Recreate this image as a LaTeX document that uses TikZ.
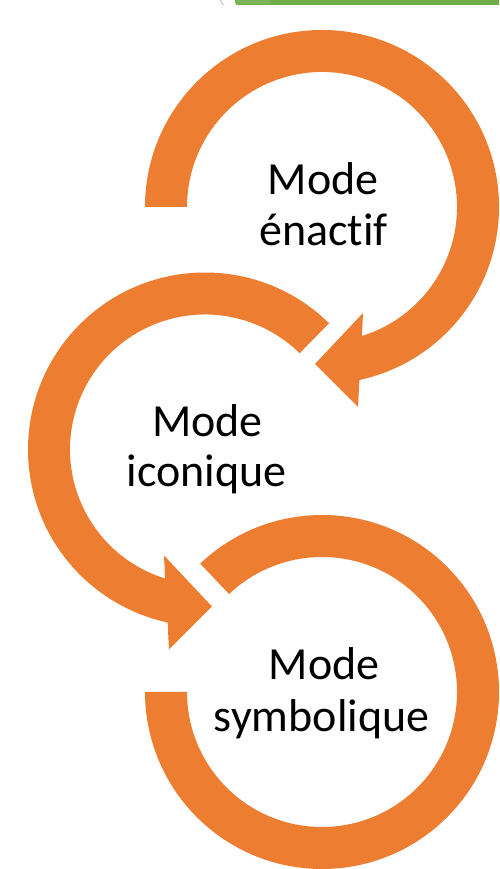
\documentclass[tikz,border=0pt]{standalone}
\usepackage{fontspec}
\setmainfont{Carlito}[Ligatures={NoCommon,NoContextual}]
\definecolor{arrowOrange}{HTML}{ED7D31}
\definecolor{barGreen}{HTML}{70AD47}
\definecolor{barGreenLight}{HTML}{7DB65A}
\begin{document}
\begin{tikzpicture}[x=1pt,y=1pt,
  arrowfill/.style={fill=arrowOrange},
  label/.style={font=\fontsize{46}{51}\selectfont, text=black, anchor=base, inner sep=0pt}]
\useasboundingbox (0,0) rectangle (499,869);
% partial green bar at the top edge
\fill[barGreen] (235,869) -- (235,867) to[out=-90,in=180] (238,864) -- (499,864) -- (499,869) -- cycle;
\fill[barGreenLight] (236,869) -- (236,867) to[out=-90,in=180] (238,864.8) -- (270,864.8) -- (270,869) -- cycle;
\draw[gray!55, line width=0.8pt] (220,869) to[bend right=10] (223.5,864);
% centres
\coordinate (c1) at (322,662);
\coordinate (c2) at (205,419.5);
\coordinate (c3) at (322,177);
% top circular arrow (clockwise)
\begin{scope}[shift={(c1)}]
\fill[arrowfill] (180:177) arc[start angle=180, end angle=-77.8, radius=177]
  -- (36,-200) -- (-7,-157) -- (41,-106) -- (-72.8:135)
  arc[start angle=-72.8, end angle=180, radius=135] -- cycle;
\end{scope}
% middle circular arrow (counter-clockwise)
\begin{scope}[shift={(c2)}]
\fill[arrowfill] (45.5:177) arc[start angle=45.5, end angle=257.8, radius=177]
  -- (-36,-200) -- (7,-157) -- (-41,-106) -- (252.8:135)
  arc[start angle=252.8, end angle=45.5, radius=135] -- cycle;
\end{scope}
% bottom circular arrow (clockwise, no head)
\begin{scope}[shift={(c3)}]
\fill[arrowfill] (133.5:177) arc[start angle=133.5, end angle=-180, radius=177]
  -- (-180:135) arc[start angle=-180, end angle=133.5, radius=135] -- cycle;
\end{scope}
% labels
\node[label] (t1a) at (323,674) {Mode};
\node[label] (t1b) at (323.5,623) {énact\kern0pt{}if};
\node[label] (t2a) at (207.5,432.3) {Mode};
\node[label] (t2b) at (206.5,382.3) {iconique};
\node[label] (t3a) at (324,189) {Mode};
\node[label] (t3b) at (321.7,137.3) {symbolique};
\end{tikzpicture}
\end{document}
